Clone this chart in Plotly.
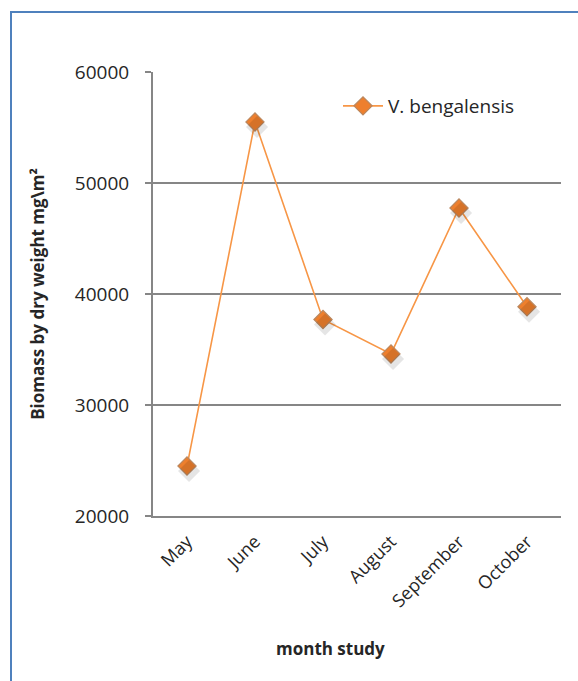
import plotly.graph_objects as go

months = ["May", "June", "July", "August", "September", "October"]
biomass = [24500, 55500, 37700, 34600, 47750, 38850]
y_ticks = [20000, 30000, 40000, 50000, 60000]
y_tick_text = ["20000", "30000", "40000", "50000", "60000"]
series_name = "V. bengalensis"

W, H = 578, 681
L, R, T, B = 153, 17, 72, 165
pw, ph = W - L - R, H - T - B


def px_x(x):
    return (x - L) / pw


def px_y(y):
    return (H - B - y) / ph


orange = "#F79646"
grey = "#868686"
font = "Open Sans, Lato, sans-serif"

fig = go.Figure()
# soft shadow under each marker
fig.add_trace(go.Scatter(
    x=months, y=biomass, mode="markers", showlegend=False, hoverinfo="skip",
    marker=dict(symbol="diamond", size=17, color="rgba(0,0,0,0.10)"),
    xaxis="x2", yaxis="y2",
))
fig.add_trace(go.Scatter(
    x=months, y=biomass, mode="lines+markers", name=series_name,
    line=dict(color=orange, width=1.6),
    marker=dict(symbol="diamond", size=14, color="#EE7F2D",
                line=dict(color="#B9875F", width=1.2)),
))

fig.update_layout(
    width=W, height=H,
    margin=dict(l=L, r=R, t=T, b=B),
    paper_bgcolor="white", plot_bgcolor="white",
    font=dict(family=font, color="#262626", size=18),
    showlegend=True,
    legend=dict(x=px_x(338), y=px_y(106), xanchor="left", yanchor="middle",
                bgcolor="rgba(0,0,0,0)", font=dict(size=19, color="#262626"),
                itemwidth=40),
    xaxis=dict(
        type="category", range=[-0.5, 5.5], showgrid=False,
        showline=True, linecolor=grey, linewidth=2,
        ticks="", tickangle=-45, tickfont=dict(size=18),
        ticklabelstandoff=6,
        fixedrange=True,
    ),
    yaxis=dict(
        range=[20000, 60000], tickvals=y_ticks, ticktext=y_tick_text,
        showgrid=True, gridcolor=grey, gridwidth=1.6, zeroline=False,
        showline=True, linecolor=grey, linewidth=2,
        ticks="outside", ticklen=6, tickcolor=grey, tickwidth=1.6,
        tickfont=dict(size=19), ticklabelstandoff=12,
        title=dict(text="<b>Biomass by dry weight mg\\m²</b>", font=dict(size=17), standoff=26),
        fixedrange=True,
    ),
    xaxis2=dict(type="category", range=[-0.53, 5.47], overlaying="x", visible=False),
    yaxis2=dict(range=[20000 + 450, 60000 + 450], overlaying="y", visible=False),
    annotations=[
        dict(text="<b>month study</b>", xref="paper", yref="paper",
             x=px_x(330), y=px_y(648), xanchor="center", yanchor="middle",
             showarrow=False, font=dict(size=17, color="#262626")),
    ],
    shapes=[
        # chart frame
        dict(type="rect", xref="paper", yref="paper",
             x0=px_x(11), x1=px_x(600), y0=px_y(700), y1=px_y(12),
             line=dict(color="#4F81BD", width=2), layer="above"),
        # break in the top gridline
        dict(type="line", xref="paper", yref="paper",
             x0=px_x(278), x1=px_x(284), y0=1, y1=1,
             line=dict(color="white", width=3), layer="above"),
    ],
)

fig.write_html("out.html")
